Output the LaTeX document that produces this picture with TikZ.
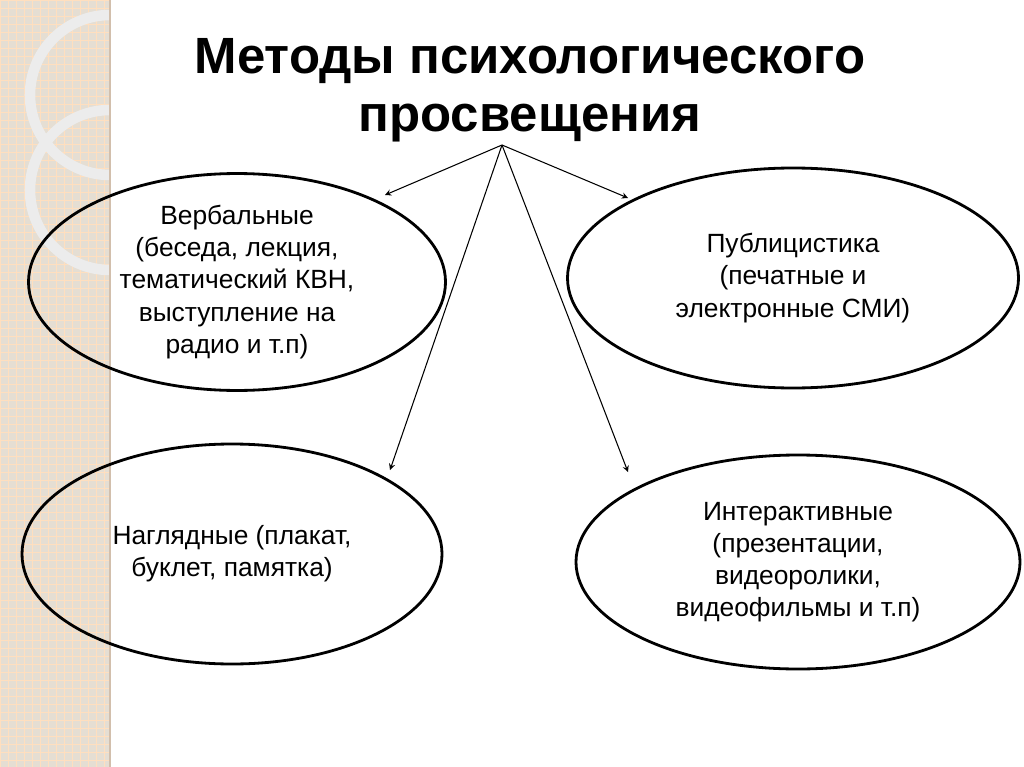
\documentclass[tikz,border=0pt]{standalone}
\usepackage{fontspec}
\setmainfont{Liberation Sans}
\usetikzlibrary{shapes.geometric}
\begin{document}
\begin{tikzpicture}[x=0.02cm,y=-0.02cm,
  oval/.style 2 args={ellipse,draw,line width=1.6pt,inner sep=0pt,minimum width=#1*0.02cm,minimum height=#2*0.02cm},
  txt/.style={align=center,font=\fontsize{15}{18.3}\selectfont},
  arr/.style={-stealth,line width=0.6pt}]
\useasboundingbox (0,0) rectangle (1024,767);
\fill[white] (0,0) rectangle (1024,767);
\fill[yellow!25!orange!22!gray!30!white] (0,0) rectangle (110,767);
\begin{scope}
\clip (0,0) rectangle (110,767);
\foreach \i in {0,8,...,767} \draw[white!75!orange,line width=0.3pt] (0,\i) -- (110,\i);
\foreach \i in {0,8,...,110} \draw[white!75!orange,line width=0.3pt] (\i,0) -- (\i,767);
\draw[white!85!gray,line width=6pt] (110,95) circle (80);
\draw[white!85!gray,line width=6pt] (110,190) circle (80);
\end{scope}
\draw[orange!30!gray!50,line width=1pt] (110,0) -- (110,767);
\node[font=\bfseries\fontsize{29}{33}\selectfont,align=center] (t) at (530,90) {Методы психологического\\просвещения};
\coordinate (o) at (502,145);
\node[oval={417}{216},txt] (a) at (237,282) {Вербальные\\(беседа, лекция,\\тематический КВН,\\выступление на\\радио и т.п)};
\node[oval={451}{220},txt] (b) at (793,278) {Публицистика\\(печатные и\\электронные СМИ)};
\node[oval={420}{220},txt] (c) at (232,554) {Наглядные (плакат,\\буклет, памятка)};
\node[oval={444}{214},txt] (d) at (798,562) {Интерактивные\\(презентации,\\видеоролики,\\видеофильмы и т.п)};
\coordinate (ea) at (385,195);
\coordinate (eb) at (628,198);
\coordinate (ec) at (390,470);
\coordinate (ed) at (628,472);
\foreach \e in {ea,eb,ec,ed} \draw[arr] (o) -- (\e);
\end{tikzpicture}
\end{document}
